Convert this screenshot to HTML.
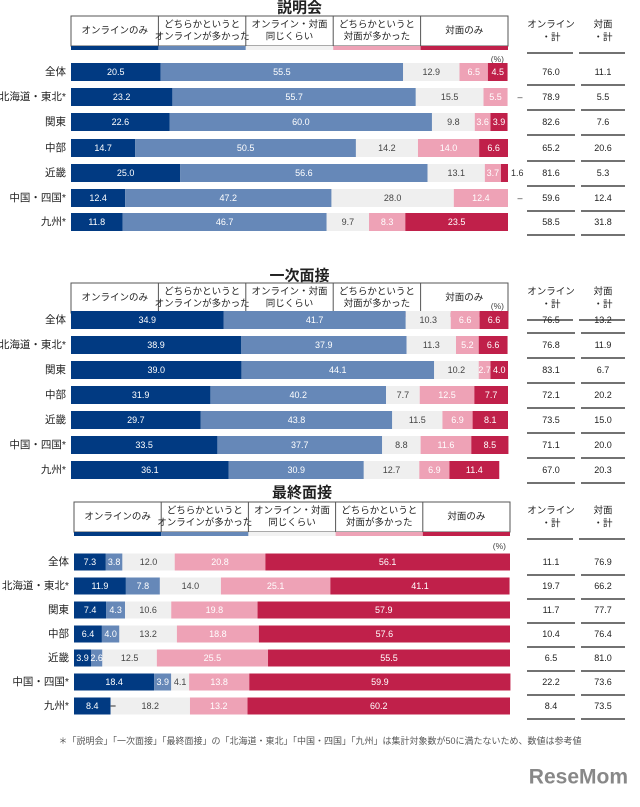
<!DOCTYPE html>
<html><head><meta charset="utf-8"><style>
body{margin:0;background:#fff;width:640px;height:802px;overflow:hidden;font-family:"Liberation Sans","Noto Sans CJK JP",sans-serif;}
svg text{font-family:"Liberation Sans","Noto Sans CJK JP",sans-serif;}
</style></head><body>
<svg id="c" width="640" height="802" xmlns="http://www.w3.org/2000/svg"></svg>
<script>
const categories=["全体","北海道・東北*","関東","中部","近畿","中国・四国*","九州*"];
const legendLabels=[["オンラインのみ"],["どちらかというと","オンラインが多かった"],["オンライン・対面","同じくらい"],["どちらかというと","対面が多かった"],["対面のみ"]];
const sectionTitles=["説明会","一次面接","最終面接"];
const s1=[[20.5,55.5,12.9,6.5,4.5],[23.2,55.7,15.5,5.5,0],[22.6,60.0,9.8,3.6,3.9],[14.7,50.5,14.2,14.0,6.6],[25.0,56.6,13.1,3.7,1.6],[12.4,47.2,28.0,12.4,0],[11.8,46.7,9.7,8.3,23.5]];
const s1Online=["76.0","78.9","82.6","65.2","81.6","59.6","58.5"];
const s1Face=["11.1","5.5","7.6","20.6","5.3","12.4","31.8"];
const s2=[[34.9,41.7,10.3,6.6,6.6],[38.9,37.9,11.3,5.2,6.6],[39.0,44.1,10.2,2.7,4.0],[31.9,40.2,7.7,12.5,7.7],[29.7,43.8,11.5,6.9,8.1],[33.5,37.7,8.8,11.6,8.5],[36.1,30.9,12.7,6.9,11.4]];
const s2Online=["76.5","76.8","83.1","72.1","73.5","71.1","67.0"];
const s2Face=["13.2","11.9","6.7","20.2","15.0","20.0","20.3"];
const s3=[[7.3,3.8,12.0,20.8,56.1],[11.9,7.8,14.0,25.1,41.1],[7.4,4.3,10.6,19.8,57.9],[6.4,4.0,13.2,18.8,57.6],[3.9,2.6,12.5,25.5,55.5],[18.4,3.9,4.1,13.8,59.9],[8.4,0,18.2,13.2,60.2]];
const s3Online=["11.1","19.7","11.7","10.4","6.5","22.2","8.4"];
const s3Face=["76.9","66.2","77.7","76.4","81.0","73.6","73.5"];

const colors=["#013a82","#6688b8","#efefef","#eea2b6","#c0204a"];
const txtColors=["#fff","#fff","#444","#fff","#fff"];
const NS="http://www.w3.org/2000/svg";
const svg=document.getElementById('c');
function mk(tag,attrs,parent){const e=document.createElementNS(NS,tag);for(const k in attrs)e.setAttribute(k,attrs[k]);(parent||svg).appendChild(e);return e;}
function txt(x,y,s,size,fill,anchor,parent){const t=mk('text',{x:x,y:y,'font-size':size,fill:fill,'text-anchor':anchor||'middle','dominant-baseline':'central'},parent);t.textContent=s;return t;}

const layouts=[
 {title:8,hdr:16,x0:71,x1:508,pct:59,rows:[72,97,122,148,173,198,222],bh:18,data:s1,on:s1Online,fa:s1Face},
 {title:276,hdr:283,x0:71,x1:508,pct:306,rows:[320,345,370,395,420,445,470],bh:18,data:s2,on:s2Online,fa:s2Face},
 {title:493,hdr:502,x0:74,x1:510,pct:546,rows:[562,586,610,634,658,682,706],bh:17,data:s3,on:s3Online,fa:s3Face}
];
layouts.forEach((L,si)=>{
 const g=mk('g',{});
 
 
 const t=txt((L.x0+L.x1)/2+10,L.title,sectionTitles[si],15,'#222','middle',g);
 t.setAttribute('font-weight','bold');
 mk('line',{x1:(L.x0+L.x1)/2-12,x2:(L.x0+L.x1)/2+33,y1:L.title+9,y2:L.title+9,stroke:'#222','stroke-width':1},g);
 const W=L.x1-L.x0,cw=W/5;
 const hb=mk('rect',{x:L.x0,y:L.hdr,width:W,height:30,fill:'#fff',stroke:'#555','stroke-width':1},g);
 
 for(let i=0;i<5;i++){
  const cx=L.x0+cw*i;
  if(i>0)mk('line',{x1:cx,x2:cx,y1:L.hdr,y2:L.hdr+30,stroke:'#555'},g);
  const sw=mk('rect',{x:cx,y:L.hdr+30,width:cw,height:4,fill:i==2?'#f2f2f2':colors[i]},g);
  
  const lab=legendLabels[i];
  lab.forEach((s,j)=>{const e=txt(cx+cw/2,L.hdr+15+(j-(lab.length-1)/2)*12,s,9.5,'#222','middle',g);});
 }
 // right headers
 [[551,["オンライン","・計"]],[603,["対面","・計"]]].forEach(([x,l])=>{
  l.forEach((s,j)=>txt(x,L.hdr+9+j*13,s,9.5,'#222','middle',g));
  mk('line',{x1:x-24,x2:x+22,y1:L.hdr+37,y2:L.hdr+37,stroke:'#444','stroke-width':1.5},g);
 });
 txt(L.x1-4,L.pct,'(%)',8.5,'#444','end',g);
 L.rows.forEach((cy,ri)=>{
  const rt=txt(L.x0-5,cy,categories[ri],10.5,'#222','end',g);
  
  let acc=0;const vals=L.data[ri];
  vals.forEach((v,k)=>{
   const x=L.x0+acc/100*W,w=v/100*W;acc+=v;
   if(v<=0)return;
   const r=mk('rect',{x:x,y:cy-L.bh/2,width:w,height:L.bh,fill:colors[k]},g);
   
   if(w>=10)txt(x+w/2,cy,v.toFixed(1),9,txtColors[k],'middle',g);
   else txt(x+w+3,cy,v.toFixed(1),9,'#333','start',g);
  });
  if(vals[4]<=0&&si<2)txt(L.x1+12,cy,'–',9,'#333','middle',g);
  if(si==2&&vals[1]<=0){const x=L.x0+vals[0]/100*W;mk('line',{x1:x,x2:x+5,y1:cy,y2:cy,stroke:'#333'},g);}
  const o=txt(551,cy,L.on[ri],9,'#222','middle',g);
  const f=txt(603,cy,L.fa[ri],9,'#222','middle',g);
  mk('line',{x1:527,x2:575,y1:cy+13,y2:cy+13,stroke:'#444','stroke-width':1.5},g);
  mk('line',{x1:581,x2:625,y1:cy+13,y2:cy+13,stroke:'#444','stroke-width':1.5},g);
 });
});
const fn=txt(320,741,'＊「説明会」「一次面接」「最終面接」の「北海道・東北」「中国・四国」「九州」は集計対象数が50に満たないため、数値は参考値',9,'#555','middle');

const lg=txt(628,777,'ReseMom',21,'#888','end');
lg.setAttribute('font-weight','bold');
</script>
</body></html>
